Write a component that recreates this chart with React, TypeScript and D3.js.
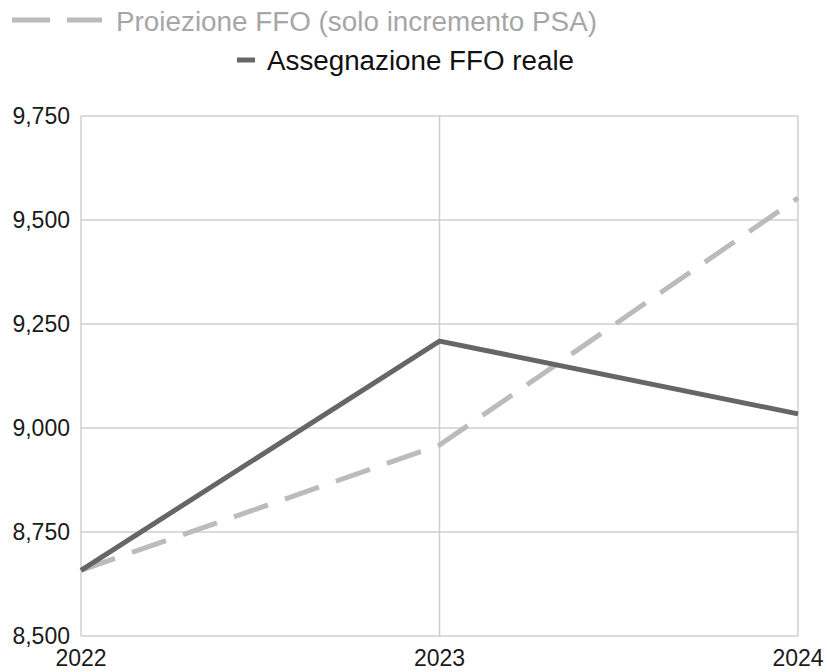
import React from "react";
import * as d3 from "d3";

const years = ["2022", "2023", "2024"];
const projectionValues = [8658, 8959, 9553];
const realValues = [8658, 9209, 9034];
const yTicks = [8500, 8750, 9000, 9250, 9500, 9750];
const projectionLabel = "Proiezione FFO (solo incremento PSA)";
const realLabel = "Assegnazione FFO reale";

const W = 827;
const H = 672;
const margin = { left: 81, right: 29, top: 116, bottom: 36 };
const FONT = "'Liberation Sans', Arial, sans-serif";

export default function App() {
  const x = d3
    .scalePoint<string>()
    .domain(years)
    .range([margin.left, W - margin.right]);
  const y = d3
    .scaleLinear()
    .domain([8500, 9750])
    .range([H - margin.bottom, margin.top]);
  const fmt = d3.format(",");

  const line = d3
    .line<number>()
    .x((_, i) => x(years[i]) as number)
    .y((d) => y(d));

  return (
    <svg
      width={W}
      height={H}
      style={{ position: "absolute", left: 0, top: 0, background: "#fff" }}
      fontFamily={FONT}
    >
      {/* grid */}
      {yTicks.map((t) => (
        <line
          key={t}
          x1={margin.left}
          x2={W - margin.right}
          y1={y(t)}
          y2={y(t)}
          stroke="#cfcfcf"
          strokeWidth={1.5}
        />
      ))}
      {years.map((yr) => (
        <line
          key={yr}
          x1={x(yr)}
          x2={x(yr)}
          y1={margin.top}
          y2={H - margin.bottom}
          stroke="#cfcfcf"
          strokeWidth={1.5}
        />
      ))}
      {/* y tick labels */}
      {yTicks.map((t) => (
        <text
          key={t}
          x={70}
          y={y(t) + 8}
          textAnchor="end"
          fontSize={23}
          fill="#1a1a1a"
        >
          {fmt(t)}
        </text>
      ))}
      {/* x tick labels */}
      {years.map((yr) => (
        <text
          key={yr}
          x={x(yr)}
          y={666}
          textAnchor="middle"
          fontSize={23}
          fill="#1a1a1a"
        >
          {yr}
        </text>
      ))}
      {/* lines */}
      <path
        d={line(projectionValues) || ""}
        fill="none"
        stroke="#bbbbbb"
        strokeWidth={5}
        strokeDasharray="36 18"
      />
      <path
        d={line(realValues) || ""}
        fill="none"
        stroke="#666666"
        strokeWidth={5}
        strokeLinejoin="miter"
      />
      {/* legend */}
      <line
        x1={12}
        x2={102}
        y1={20}
        y2={20}
        stroke="#bbbbbb"
        strokeWidth={5}
        strokeDasharray="38 17"
      />
      <text
        x={116}
        y={31}
        fontSize={27}
        fill="#a6a6a6"
        textLength={481}
        lengthAdjust="spacingAndGlyphs"
      >
        {projectionLabel}
      </text>
      <line x1={237} x2={255} y1={60} y2={60} stroke="#666666" strokeWidth={5} />
      <text
        x={267}
        y={70}
        fontSize={27}
        fill="#111111"
        textLength={307}
        lengthAdjust="spacingAndGlyphs"
      >
        {realLabel}
      </text>
    </svg>
  );
}
